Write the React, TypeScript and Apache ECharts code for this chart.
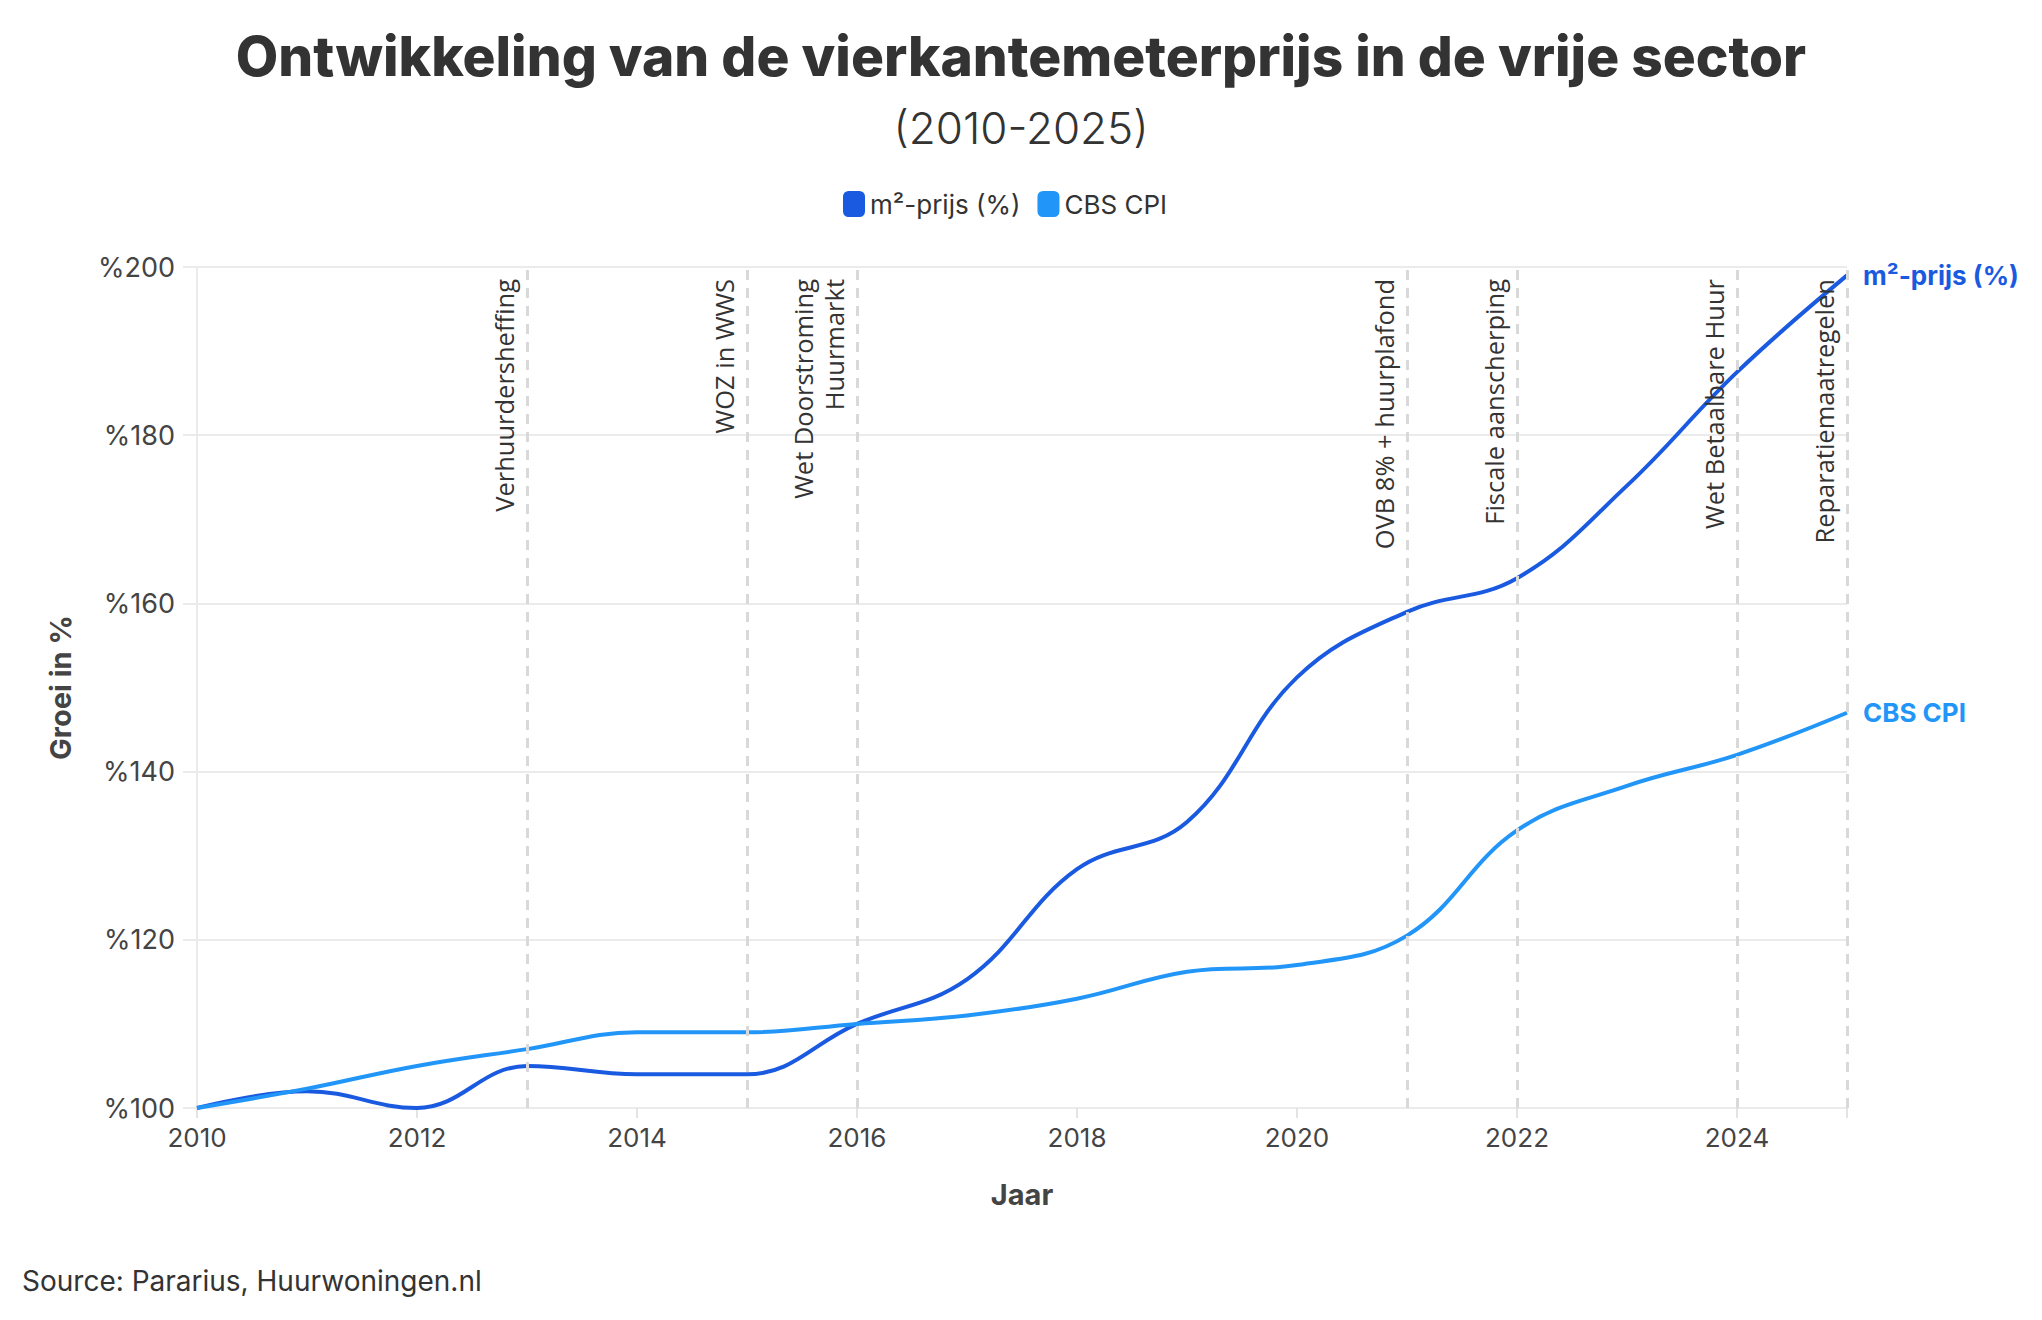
import React, { useEffect, useRef } from "react";
import * as echarts from "echarts";

const years = [2010, 2011, 2012, 2013, 2014, 2015, 2016, 2017, 2018, 2019, 2020, 2021, 2022, 2023, 2024, 2025];
const m2Prijs = [100, 102, 100, 105, 104, 104, 110, 115.3, 128.4, 134, 151.2, 159, 163, 174, 187.5, 199];
const cbsCpi = [100, 102.3, 105, 107, 109, 109, 110, 111, 113, 116.2, 117, 120.5, 133, 138.3, 142, 147];

const eventYears = [2013, 2015, 2016, 2021, 2022, 2024, 2025];
const eventLabels = [
  "Verhuurdersheffing",
  "WOZ in WWS",
  "Wet Doorstroming\nHuurmarkt",
  "OVB 8% + huurplafond",
  "Fiscale aanscherping",
  "Wet Betaalbare Huur",
  "Reparatiemaatregelen",
];

const seriesNames = ["m²-prijs (%)", "CBS CPI"];
const colors = ["#1a5ae0", "#2196f8"];

const UI = 'Inter, "Noto Sans", sans-serif';
const LABELFONT = '"Open Sans", "Noto Sans", sans-serif';

export default function App() {
  const ref = useRef<HTMLDivElement>(null);
  useEffect(() => {
    if (!ref.current) return;
    const chart = echarts.init(ref.current, null, { renderer: "svg" });
    const toPairs = (vals: number[]) => years.map((y, i) => [y, vals[i]]);
    chart.setOption({
      animation: false,
      backgroundColor: "#ffffff",
      title: [
        {
          text: "Ontwikkeling van de vierkantemeterprijs in de vrije sector",
          left: "center",
          top: 23,
          textStyle: { fontFamily: UI, fontSize: 55, fontWeight: 800, color: "#333333" },
        },
        {
          text: "(2010-2025)",
          left: "center",
          top: 101,
          textStyle: { fontFamily: UI, fontSize: 44, fontWeight: 300, color: "#333333" },
        },
      ],
      legend: {
        top: 186,
        left: 838,
        itemWidth: 22,
        itemHeight: 26,
        itemGap: 17,
        icon: "roundRect",
        textStyle: { fontFamily: UI, fontSize: 26, color: "#333333" },
        data: seriesNames,
      },
      grid: { left: 197, right: 195, top: 267, bottom: 212, containLabel: false },
      xAxis: {
        type: "value",
        min: 2010,
        max: 2025,
        interval: 2,
        name: "Jaar",
        nameLocation: "middle",
        nameGap: 72,
        nameTextStyle: { fontFamily: UI, fontSize: 29, fontWeight: 700, color: "#444444" },
        axisLine: { show: true, lineStyle: { color: "#ebebeb", width: 2 } },
        axisTick: { show: true, length: 10, lineStyle: { color: "#e3e3e3", width: 2 } },
        axisLabel: {
          fontFamily: UI,
          fontSize: 26,
          color: "#444444",
          margin: 16,
          formatter: (v: number) => (v <= 2024 ? String(v) : ""),
        },
        splitLine: { show: false },
      },
      yAxis: {
        type: "value",
        min: 100,
        max: 200,
        interval: 20,
        name: "Groei in %",
        nameLocation: "middle",
        nameGap: 122,
        nameTextStyle: { fontFamily: UI, fontSize: 29, fontWeight: 700, color: "#444444" },
        axisLine: { show: true, lineStyle: { color: "#ebebeb", width: 2 } },
        axisTick: { show: true, length: 14, lineStyle: { color: "#ebebeb", width: 2 } },
        axisLabel: {
          fontFamily: UI,
          fontSize: 27,
          color: "#444444",
          margin: 22,
          formatter: (v: number) => "%" + v,
        },
        splitLine: { show: true, lineStyle: { color: "#ebebeb", width: 2 } },
      },
      series: [
        {
          name: seriesNames[0],
          type: "line",
          data: toPairs(m2Prijs),
          smooth: 0.4,
          showSymbol: false,
          symbol: "none",
          color: colors[0],
          lineStyle: { width: 4, color: colors[0] },
          endLabel: {
            show: true,
            formatter: seriesNames[0],
            fontFamily: UI,
            fontSize: 26,
            fontWeight: 700,
            color: colors[0],
            distance: 16,
          },
          markLine: {
            silent: true,
            symbol: "none",
            z: 5,
            lineStyle: { color: "#d9d9d9", width: 3, type: [10, 8] },
            label: {
              show: true,
              position: "insideEndTop",
              fontFamily: LABELFONT,
              fontSize: 25.5,
              color: "#333333",
              lineHeight: 31,
              distance: [12, 8],
              align: "right",
            },
            data: eventYears.map((y, i) => ({ xAxis: y, label: { formatter: eventLabels[i] } })),
          },
        },
        {
          name: seriesNames[1],
          type: "line",
          data: toPairs(cbsCpi),
          smooth: 0.4,
          showSymbol: false,
          symbol: "none",
          color: colors[1],
          lineStyle: { width: 4, color: colors[1] },
          endLabel: {
            show: true,
            formatter: seriesNames[1],
            fontFamily: UI,
            fontSize: 26,
            fontWeight: 700,
            color: colors[1],
            distance: 16,
          },
        },
      ],
      graphic: [
        {
          type: "text",
          left: 22,
          top: 1267,
          style: {
            text: "Source: Pararius, Huurwoningen.nl",
            fontFamily: UI,
            fontSize: 28,
            fill: "#333333",
          },
        },
      ],
    });
    return () => chart.dispose();
  }, []);
  return (
    <div
      ref={ref}
      style={{ position: "absolute", left: 0, top: 0, width: 2042, height: 1320 }}
    />
  );
}
